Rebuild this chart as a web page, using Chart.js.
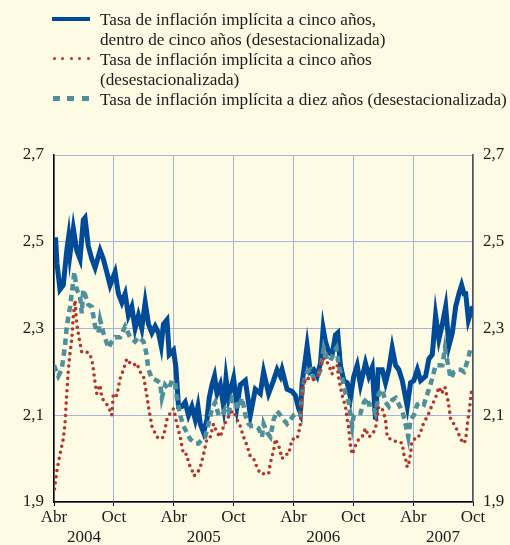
<!DOCTYPE html>
<html><head><meta charset="utf-8">
<script src="https://cdn.jsdelivr.net/npm/chart.js@4.4.1/dist/chart.umd.min.js"></script>
<style>
html,body{margin:0;padding:0;background:#fdfbe3;}
#wrap{position:relative;width:510px;height:545px;overflow:hidden;background:#fdfbe3;}
canvas{position:absolute;left:0;top:0;}
.lg{position:absolute;left:100px;top:10px;font:17.2px/20px "Liberation Serif","Times New Roman",serif;color:#1b1b1b;white-space:nowrap;}
.s{position:absolute;}
</style>
</head><body>
<div id="wrap">
<canvas id="c" width="510" height="545"></canvas>
<div class="lg" id="legend"></div>
<div class="s" style="left:52px;top:17px;width:38px;height:4px;background:#004b98"></div>
<div class="s" id="dots"></div>
<div class="s" id="dashes"></div>
</div>
<script>
// ---- data (x = months since April 2004) ----
const xTickMonths = [0,6,12,18,24,30,36,42];
const xTickLabels = ['Abr','Oct','Abr','Oct','Abr','Oct','Abr','Oct'];
const yearLabels = ['2004','2005','2006','2007'];
const yearMonths = [3,15,27,39];
const yTicks = [1.9,2.1,2.3,2.5,2.7];
const yTickLabels = ['1,9','2,1','2,3','2,5','2,7'];
const seriesNames = [
 'Tasa de inflación implícita a cinco años,\ndentro de cinco años (desestacionalizada)',
 'Tasa de inflación implícita a cinco años\n(desestacionalizada)',
 'Tasa de inflación implícita a diez años (desestacionalizada)'
];

const blueMonths = [0,0.15,0.3,0.6,0.93,1.28,1.46,1.6,1.94,2.28,2.61,2.94,3.11,3.44,3.79,4.12,4.62,4.95,5.29,5.62,6.12,6.46,6.8,7.13,7.46,7.8,8.13,8.46,8.8,9.14,9.47,9.81,10.14,10.47,10.74,10.97,11.32,11.55,11.98,12.22,12.48,12.82,13.15,13.48,13.82,14.16,14.43,14.66,14.99,15.33,15.56,15.83,16.09,16.34,16.67,17.0,17.24,17.5,18.0,18.34,18.67,19.18,19.68,20.18,20.68,21.01,21.51,22.0,22.36,22.69,22.86,23.36,23.86,24.2,24.53,24.7,24.87,25.2,25.37,25.7,26.03,26.38,26.71,26.98,27.21,27.54,27.88,28.21,28.44,28.71,29.05,29.39,29.72,30.05,30.39,30.72,31.22,31.56,31.9,32.23,32.5,32.9,33.23,33.56,33.9,34.24,34.57,34.91,35.24,35.41,35.74,36.07,36.42,36.75,37.25,37.58,37.92,38.25,38.58,38.93,39.26,39.59,39.93,40.26,40.59,40.86,41.1,41.27,41.54,41.87,42];
const blueValues = [2.48,2.51,2.45,2.39,2.40,2.48,2.51,2.47,2.53,2.48,2.46,2.55,2.555,2.49,2.46,2.44,2.48,2.46,2.43,2.40,2.43,2.38,2.36,2.38,2.33,2.35,2.30,2.33,2.30,2.36,2.31,2.29,2.305,2.29,2.26,2.31,2.32,2.24,2.25,2.21,2.12,2.12,2.13,2.10,2.12,2.09,2.12,2.08,2.06,2.09,2.14,2.17,2.19,2.15,2.17,2.12,2.185,2.14,2.185,2.12,2.17,2.18,2.10,2.16,2.15,2.20,2.15,2.18,2.205,2.19,2.205,2.16,2.155,2.145,2.115,2.105,2.175,2.23,2.26,2.20,2.205,2.19,2.22,2.30,2.27,2.245,2.24,2.285,2.29,2.215,2.18,2.175,2.14,2.19,2.215,2.17,2.22,2.19,2.21,2.09,2.205,2.205,2.175,2.205,2.255,2.215,2.205,2.18,2.14,2.12,2.175,2.18,2.205,2.18,2.19,2.23,2.24,2.33,2.275,2.31,2.35,2.26,2.29,2.35,2.38,2.40,2.38,2.38,2.32,2.345,2.35];

const redMonths = [0.05,0.27,0.6,0.93,1.1,1.28,1.44,1.61,1.78,1.94,2.11,2.28,2.54,2.78,3.11,3.44,3.79,3.95,4.12,4.29,4.62,4.79,5.12,5.45,5.79,5.95,6.3,6.63,6.96,7.3,7.63,7.96,8.3,8.63,8.97,9.31,9.47,9.81,10.31,10.64,10.97,11.32,11.65,11.98,12.32,12.65,12.98,13.32,13.48,13.82,13.99,14.33,14.66,14.99,15.33,15.66,15.99,16.34,16.67,17.0,17.34,17.67,18.0,18.34,18.67,19.0,19.35,19.68,20.01,20.35,20.68,21.01,21.51,21.69,22.02,22.19,22.52,22.86,23.19,23.52,23.86,24.37,24.53,24.7,24.77,24.93,25.2,25.53,25.87,26.2,26.54,26.88,27.21,27.54,27.88,28.04,28.38,28.54,28.71,28.89,29.22,29.39,29.55,29.72,29.89,30.22,30.55,30.89,31.22,31.56,31.9,32.23,32.56,32.9,33.23,33.4,33.73,34.07,34.57,34.91,35.07,35.24,35.41,35.57,35.74,35.84,36.07,36.42,36.75,36.92,37.25,37.58,37.92,38.25,38.58,38.86,39.19,39.53,39.76,40.09,40.43,40.76,41.1,41.27,41.44,41.67,41.87];
const redValues = [1.93,1.97,2.01,2.045,2.08,2.15,2.205,2.245,2.275,2.33,2.365,2.31,2.275,2.245,2.245,2.245,2.23,2.205,2.175,2.15,2.17,2.14,2.13,2.12,2.10,2.15,2.145,2.185,2.205,2.23,2.22,2.215,2.22,2.20,2.19,2.145,2.12,2.075,2.05,2.045,2.05,2.09,2.105,2.115,2.08,2.05,2.01,2.01,1.99,1.975,1.96,1.965,1.98,2.01,2.045,2.05,2.08,2.06,2.05,2.075,2.09,2.105,2.11,2.09,2.075,2.05,2.03,2.005,2.00,1.98,1.965,1.965,1.965,1.99,2.02,2.045,2.03,2.00,2.01,2.01,2.045,2.045,2.06,2.08,2.12,2.16,2.185,2.185,2.18,2.185,2.195,2.23,2.23,2.215,2.195,2.215,2.215,2.185,2.165,2.145,2.12,2.09,2.07,2.03,2.01,2.03,2.045,2.05,2.07,2.05,2.055,2.07,2.12,2.115,2.09,2.05,2.045,2.04,2.04,2.035,2.01,2.00,1.98,1.99,2.01,2.035,2.045,2.045,2.06,2.075,2.09,2.105,2.125,2.14,2.165,2.15,2.165,2.13,2.09,2.08,2.065,2.045,2.035,2.045,2.08,2.12,2.16];

const tealMonths = [0,0.43,0.77,1.1,1.28,1.61,1.88,2.04,2.28,2.61,2.78,2.94,3.44,3.79,4.12,4.45,4.62,4.95,5.45,5.79,6.12,6.63,7.13,7.63,8.13,8.46,8.97,9.24,9.47,9.81,10.31,10.64,10.81,11.14,11.48,11.82,12.15,12.32,12.65,12.98,13.32,13.65,14.16,14.49,14.83,15.16,15.49,15.83,16.16,16.5,16.84,17.17,17.5,17.84,18.17,18.5,18.85,19.18,19.51,19.85,20.18,20.51,20.85,21.01,21.36,21.69,22.02,22.36,22.69,23.02,23.36,23.69,24.03,24.37,24.7,24.87,25.03,25.37,25.7,26.03,26.38,26.71,27.04,27.38,27.71,28.04,28.31,28.54,28.89,29.22,29.55,29.72,29.89,30.05,30.39,30.72,31.06,31.4,31.56,31.9,32.23,32.56,32.9,33.23,33.56,33.9,34.24,34.57,34.91,35.24,35.51,35.74,36.07,36.42,36.75,37.08,37.58,37.92,38.25,38.58,38.93,39.19,39.43,39.76,40.09,40.43,40.76,41.1,41.44,41.77];
const tealValues = [2.215,2.19,2.205,2.26,2.305,2.35,2.40,2.43,2.39,2.375,2.335,2.39,2.355,2.35,2.305,2.29,2.32,2.29,2.255,2.27,2.28,2.28,2.305,2.28,2.27,2.28,2.27,2.245,2.205,2.185,2.18,2.175,2.14,2.17,2.16,2.18,2.175,2.14,2.10,2.075,2.06,2.045,2.035,2.035,2.045,2.05,2.08,2.115,2.13,2.10,2.10,2.115,2.105,2.14,2.13,2.115,2.14,2.10,2.08,2.075,2.075,2.07,2.05,2.08,2.06,2.05,2.09,2.11,2.10,2.09,2.08,2.09,2.10,2.105,2.10,2.145,2.175,2.20,2.205,2.185,2.185,2.205,2.255,2.23,2.225,2.245,2.255,2.215,2.185,2.15,2.13,2.10,2.075,2.10,2.105,2.105,2.13,2.14,2.125,2.125,2.105,2.15,2.16,2.13,2.12,2.135,2.14,2.125,2.11,2.08,2.05,2.09,2.10,2.125,2.13,2.125,2.16,2.185,2.215,2.215,2.215,2.255,2.225,2.185,2.20,2.205,2.205,2.20,2.225,2.255];

// ---- styles ----
const BLUE = '#004b98', RED = '#b5352d', TEAL = '#4e8f9b', GRID = '#a7b2d9', FONT = '"Liberation Serif","Times New Roman",serif';

function pts(xs, ys){ const n=Math.min(xs.length, ys.length); const a=[]; for(let i=0;i<n;i++) a.push({x:xs[i], y:ys[i]}); return a; }

// HTML legend text
document.getElementById('legend').innerHTML = seriesNames.map(s=>s.replace(/\n/g,'<br>')).join('<br>');
// legend samples
(function(){
  const d=document.getElementById('dots');
  for(let i=0;i<5;i++){ const e=document.createElement('div'); e.className='s'; e.style.cssText=`left:${52.5+i*8.5}px;top:56.8px;width:3.4px;height:3.4px;border-radius:50%;background:${RED}`; d.appendChild(e); }
  const t=document.getElementById('dashes');
  [53,67,82].forEach(x=>{ const e=document.createElement('div'); e.className='s'; e.style.cssText=`left:${x}px;top:96px;width:7px;height:4.5px;background:${TEAL}`; t.appendChild(e); });
})();

const yearPlugin = {
  id:'years',
  afterDraw(chart){
    const xs = chart.scales.x, ctx = chart.ctx;
    ctx.save();
    ctx.font = '17px ' + FONT; ctx.fillStyle = '#1b1b1b';
    ctx.textAlign = 'center'; ctx.textBaseline = 'alphabetic';
    yearLabels.forEach((t,i)=> ctx.fillText(t, xs.getPixelForValue(yearMonths[i]), xs.bottom - 3));
    ctx.restore();
  }
};

new Chart(document.getElementById('c'), {
  type:'line',
  data:{ datasets:[
    {label:seriesNames[0], data:pts(blueMonths, blueValues), borderColor:BLUE, borderWidth:5, pointRadius:0, tension:0, order:2, borderJoinStyle:'miter'},
    {label:seriesNames[1], data:pts(redMonths, redValues), borderColor:RED, borderWidth:3.6, borderDash:[0,6.2], borderCapStyle:'round', pointRadius:0, tension:0, order:0},
    {label:seriesNames[2], data:pts(tealMonths, tealValues), borderColor:TEAL, borderWidth:4.5, borderDash:[6.5,4.5], borderCapStyle:'butt', pointRadius:0, tension:0, order:1}
  ]},
  options:{
    responsive:false, animation:false, events:[],
    layout:{padding:{top:155, left:0, right:0, bottom:0}},
    plugins:{legend:{display:false}, tooltip:{enabled:false}},
    scales:{
      x:{ type:'linear', min:0, max:42, position:'bottom',
        afterFit(s){ s.height = 43; },
        afterBuildTicks(s){ s.ticks = xTickMonths.map(v=>({value:v})); },
        grid:{ color:GRID, lineWidth:1, tickLength:4, tickColor:'#000', drawTicks:true },
        border:{ color:'#000', width:1.5 },
        ticks:{ autoSkip:false, maxRotation:0, padding:1, color:'#1b1b1b', font:{family:FONT, size:17},
          callback:(v)=>{ const i=xTickMonths.indexOf(v); return i>=0?xTickLabels[i]:''; } }
      },
      y:{ type:'linear', min:1.9, max:2.7, position:'left',
        afterFit(s){ s.width = 54; },
        afterBuildTicks(s){ s.ticks = yTicks.map(v=>({value:v})); },
        grid:{ color:GRID, lineWidth:1, drawTicks:false },
        border:{ color:'#000', width:1.5 },
        ticks:{ padding:10, color:'#1b1b1b', font:{family:FONT, size:17},
          callback:(v)=>{ const i=yTicks.findIndex(t=>Math.abs(t-v)<1e-6); return i>=0?yTickLabels[i]:''; } }
      },
      y2:{ type:'linear', min:1.9, max:2.7, position:'right',
        afterFit(s){ s.width = 37; },
        afterBuildTicks(s){ s.ticks = yTicks.map(v=>({value:v})); },
        grid:{ drawOnChartArea:false, drawTicks:false },
        border:{ color:'#555', width:1.5 },
        ticks:{ padding:10, color:'#1b1b1b', font:{family:FONT, size:17},
          callback:(v)=>{ const i=yTicks.findIndex(t=>Math.abs(t-v)<1e-6); return i>=0?yTickLabels[i]:''; } }
      }
    }
  },
  plugins:[yearPlugin]
});
</script>
</body></html>
